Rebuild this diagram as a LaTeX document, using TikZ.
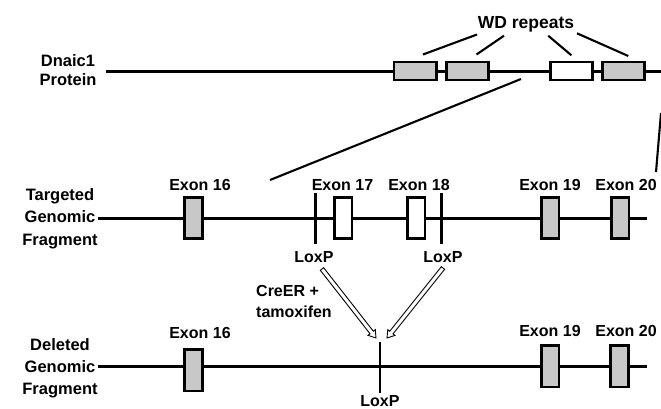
\documentclass[tikz,border=0pt]{standalone}
\usepackage{fontspec}
\setmainfont{Liberation Sans}
\usetikzlibrary{calc}
\definecolor{boxgray}{RGB}{200,200,200}
\newcommand{\myhollowarrow}[2]{%
  \coordinate (ha-c) at ($(#2)!7pt!(#1)$);
  \draw[line width=0.9pt, fill=white, line join=miter]
    ($(#1)!2.1pt!90:(#2)$) -- ($(ha-c)!2.1pt!90:(#2)$) -- ($(ha-c)!4.6pt!90:(#2)$) -- (#2)
    -- ($(ha-c)!4.6pt!-90:(#2)$) -- ($(ha-c)!2.1pt!-90:(#2)$) -- ($(#1)!2.1pt!-90:(#2)$) -- cycle;
}
\begin{document}
\begin{tikzpicture}[x=1pt,y=-1pt,
  lbl/.style={font=\bfseries\fontsize{16.5}{16.5}\selectfont, inner sep=0pt, anchor=base},
  exlbl/.style={font=\bfseries\fontsize{16}{16}\selectfont, inner sep=0pt, anchor=base},
  wdlbl/.style={font=\bfseries\fontsize{17.5}{17.5}\selectfont, inner sep=0pt, anchor=base},
  backbone/.style={line width=3pt},
  pbox/.style={draw, line width=2.6pt, inner sep=0pt, minimum width=42.4pt, minimum height=18pt},
  ebox/.style={draw, line width=2.6pt, inner sep=0pt, minimum width=17.6pt, minimum height=41.5pt},
  grayfill/.style={fill=boxgray},
  whitefill/.style={fill=white},
  pointer/.style={line width=2.1pt},
  loxline/.style={line width=2.7pt}]
\useasboundingbox (0,0) rectangle (661,408);
\fill[white] (0,0) rectangle (661,408);

% ---------- Protein ----------
\node[lbl] (dn1) at (68,66) {Dnaic1};
\node[lbl] (dn2) at (68,85) {Protein};
\coordinate (ps) at (106,71);
\coordinate (pe) at (661,71);
\draw[backbone] (ps) -- (pe);
\node[pbox, grayfill] (wd1) at (415.2,71) {};
\node[pbox, grayfill] (wd2) at (467.5,71) {};
\node[pbox, whitefill] (wd3) at (571.4,71) {};
\node[pbox, grayfill] (wd4) at (623.5,71) {};
\node[wdlbl] (wdt) at (526,28.3) {WD repeats};
\coordinate (w1a) at (423,54.5);  \coordinate (w1b) at (477,34.5);
\coordinate (w2a) at (476.5,54.5); \coordinate (w2b) at (504,35.7);
\coordinate (w3a) at (548.2,35.7); \coordinate (w3b) at (571.4,55.3);
\coordinate (w4a) at (577,33.3);  \coordinate (w4b) at (628.3,56);
\draw[pointer] (w1a) -- (w1b);
\draw[pointer] (w2a) -- (w2b);
\draw[pointer] (w3a) -- (w3b);
\draw[pointer] (w4a) -- (w4b);

% zoom lines
\coordinate (zl1) at (521,79);  \coordinate (zl2) at (270,180);
\coordinate (zr1) at (661,113); \coordinate (zr2) at (656,172);
\draw[pointer] (zl1) -- (zl2);
\draw[pointer] (zr1) -- (zr2);

% ---------- Targeted ----------
\node[lbl] (tg1) at (60,200) {Targeted};
\node[lbl] (tg2) at (60,222.5) {Genomic};
\node[lbl] (tg3) at (60,245) {Fragment};
\coordinate (ts) at (98,218);
\coordinate (te) at (647,218);
\draw[backbone] (ts) -- (te);
\node[ebox, grayfill] (te16) at (193.5,218) {};
\node[ebox, whitefill] (te17) at (343.2,218) {};
\node[ebox, whitefill] (te18) at (416,218) {};
\node[ebox, grayfill] (te19) at (550,218) {};
\node[ebox, grayfill] (te20) at (620,218) {};
\node[exlbl] (tl16) at (200,190) {Exon 16};
\node[exlbl] (tl17) at (342.5,190) {Exon 17};
\node[exlbl] (tl18) at (419,190) {Exon 18};
\node[exlbl] (tl19) at (550,190) {Exon 19};
\node[exlbl] (tl20) at (626,190) {Exon 20};
\coordinate (lx1a) at (315.5,193); \coordinate (lx1b) at (315.5,244);
\coordinate (lx2a) at (441.5,193); \coordinate (lx2b) at (441.5,244);
\draw[loxline] (lx1a) -- (lx1b);
\draw[loxline] (lx2a) -- (lx2b);
\node[exlbl] (lp1) at (314,262) {LoxP};
\node[exlbl] (lp2) at (443,262) {LoxP};

% ---------- Cre arrows ----------
\node[exlbl, anchor=base west] (cre1) at (256,296) {CreER +};
\node[exlbl, anchor=base west] (cre2) at (256,317) {tamoxifen};
\coordinate (a1s) at (322,269); \coordinate (a1e) at (376,338);
\coordinate (a2s) at (443,268); \coordinate (a2e) at (387,338);
\myhollowarrow{a1s}{a1e}
\myhollowarrow{a2s}{a2e}

% ---------- Deleted ----------
\node[lbl] (dl1) at (60,350) {Deleted};
\node[lbl] (dl2) at (60,372) {Genomic};
\node[lbl] (dl3) at (60,394) {Fragment};
\coordinate (ds) at (98,366.7);
\coordinate (de) at (647,366.7);
\draw[backbone] (ds) -- (de);
\node[ebox, grayfill] (de16) at (193.4,370.3) {};
\node[ebox, grayfill] (de19) at (550,366.4) {};
\node[ebox, grayfill] (de20) at (619.5,366.4) {};
\node[exlbl] (dl16) at (200,338) {Exon 16};
\node[exlbl] (dl19) at (550,336.7) {Exon 19};
\node[exlbl] (dl20) at (626,336.7) {Exon 20};
\coordinate (lx3a) at (380,342); \coordinate (lx3b) at (380,393);
\draw[loxline] (lx3a) -- (lx3b);
\node[exlbl] (lp3) at (380,406) {LoxP};
\end{tikzpicture}
\end{document}
